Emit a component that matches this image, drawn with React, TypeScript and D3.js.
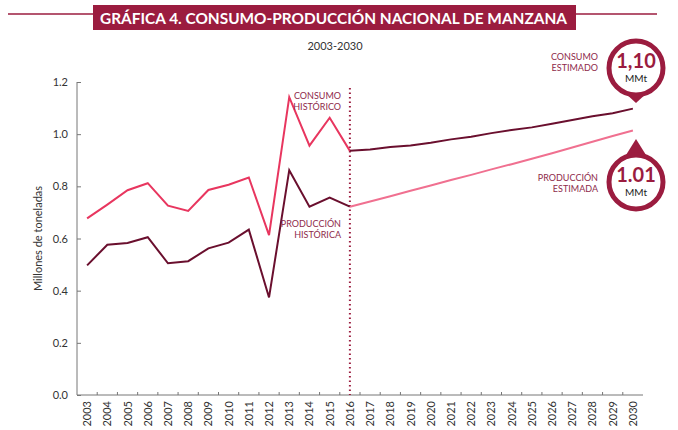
import * as d3 from 'd3';
import { useEffect, useRef } from 'react';

const years = d3.range(2003, 2031).map(String);

const consumoHistYears = ['2003', '2004', '2005', '2006', '2007', '2008', '2009', '2010', '2011', '2012', '2013', '2014', '2015', '2016'];
const consumoHist = [0.677, 0.73, 0.785, 0.812, 0.726, 0.706, 0.786, 0.806, 0.834, 0.613, 1.142, 0.956, 1.063, 0.936];
const produccionHist = [0.497, 0.576, 0.583, 0.605, 0.505, 0.513, 0.562, 0.584, 0.634, 0.374, 0.862, 0.722, 0.757, 0.722];

const estYears = ['2016', '2017', '2018', '2019', '2020', '2021', '2022', '2023', '2024', '2025', '2026', '2027', '2028', '2029', '2030'];
const consumoEst = [0.936, 0.941, 0.951, 0.957, 0.967, 0.98, 0.99, 1.004, 1.016, 1.026, 1.04, 1.054, 1.069, 1.08, 1.098];
const produccionEst = [0.722, 0.742, 0.762, 0.783, 0.803, 0.824, 0.844, 0.865, 0.885, 0.906, 0.927, 0.949, 0.971, 0.993, 1.014];

const yTicks = [0, 0.2, 0.4, 0.6, 0.8, 1.0, 1.2];

const MAROON = '#9b1c3f';
const DARK = '#6a0f2e';
const PINK = '#e8365f';
const LIGHT = '#f07090';
const FONT = 'Lato, "Open Sans", sans-serif';

export default function App() {
  const ref = useRef<SVGSVGElement>(null);
  const width = 678;
  const height = 430;
  const margin = { top: 82, right: 35, bottom: 35, left: 77 };

  useEffect(() => {
    const svg = d3.select(ref.current);
    svg.selectAll('*').remove();

    const x = d3.scaleBand(years, [margin.left, width - margin.right]);
    const cx = (yr: string) => (x(yr) ?? 0) + x.bandwidth() / 2;
    const y = d3.scaleLinear([0, 1.2], [height - margin.bottom, margin.top]);

    // title
    svg.append('line').attr('x1', 8).attr('x2', 657).attr('y1', 14).attr('y2', 14)
      .attr('stroke', MAROON).attr('stroke-width', 1.5);
    svg.append('rect').attr('x', 93).attr('y', 5).attr('width', 483).attr('height', 25).attr('fill', MAROON);
    svg.append('text').attr('x', 100).attr('y', 24)
      .attr('fill', '#fff').attr('font-family', FONT).attr('font-weight', 700).attr('font-size', 16)
      .attr('textLength', 467).attr('lengthAdjust', 'spacingAndGlyphs')
      .text('GRÁFICA 4. CONSUMO-PRODUCCIÓN NACIONAL DE MANZANA');
    svg.append('text').attr('x', 335).attr('y', 50).attr('text-anchor', 'middle')
      .attr('fill', '#333').attr('font-family', FONT).attr('font-size', 11).text('2003-2030');

    // y axis
    const yAxis = svg.append('g').attr('transform', `translate(${margin.left},0)`)
      .call(d3.axisRight(y).tickValues(yTicks).tickSize(4).tickFormat(d3.format('.1f')));
    yAxis.select('.domain').attr('stroke', '#777').attr('d', `M0,${y(1.2)}V${y(0)}`);
    yAxis.selectAll('.tick line').attr('stroke', '#777');
    yAxis.selectAll('.tick text').attr('x', -9).attr('text-anchor', 'end')
      .attr('font-family', FONT).attr('font-size', 11).attr('fill', '#333');

    svg.append('text')
      .attr('transform', `translate(42,${(y(0) + y(1.2)) / 2}) rotate(-90)`)
      .attr('text-anchor', 'middle').attr('font-family', FONT).attr('font-size', 11).attr('fill', '#333')
      .text('Millones de toneladas');

    // x axis
    const xAxis = svg.append('g').attr('transform', `translate(0,${y(0)})`);
    xAxis.append('path').attr('d', `M${margin.left},0H${width - margin.right}`).attr('stroke', '#777');
    xAxis.selectAll('line.tk').data(years.slice(1)).join('line').attr('class', 'tk')
      .attr('x1', (d) => x(d) ?? 0).attr('x2', (d) => x(d) ?? 0).attr('y1', 0).attr('y2', -3)
      .attr('stroke', '#777');
    xAxis.selectAll('text').data(years).join('text')
      .attr('transform', (d) => `translate(${cx(d) + 4},6) rotate(-90)`)
      .attr('text-anchor', 'end').attr('font-family', FONT).attr('font-size', 11).attr('fill', '#333')
      .text((d) => d);

    // divider
    svg.append('line').attr('x1', cx('2016')).attr('x2', cx('2016')).attr('y1', 88).attr('y2', y(0))
      .attr('stroke', MAROON).attr('stroke-width', 2).attr('stroke-dasharray', '1.5 3');

    const line = (ys: string[], vals: number[]) =>
      d3.line<number>().x((_, i) => cx(ys[i])).y((v) => y(v))(vals);

    const series: [string[], number[], string][] = [
      [consumoHistYears, consumoHist, PINK],
      [consumoHistYears, produccionHist, DARK],
      [estYears, consumoEst, DARK],
      [estYears, produccionEst, LIGHT],
    ];
    series.forEach(([ys, vals, c]) => {
      svg.append('path').attr('d', line(ys, vals)).attr('fill', 'none').attr('stroke', c)
        .attr('stroke-width', 2).attr('stroke-linejoin', 'miter');
    });

    const label = (lines: string[], xr: number, y0: number) => {
      const t = svg.append('text').attr('text-anchor', 'end').attr('font-family', FONT)
        .attr('font-size', 9).attr('fill', '#8e2a4a');
      lines.forEach((l, i) => t.append('tspan').attr('x', xr).attr('y', y0 + i * 11).text(l));
    };
    label(['CONSUMO', 'HISTÓRICO'], 341, 99);
    label(['PRODUCCIÓN', 'HISTÓRICA'], 341, 227);
    label(['CONSUMO', 'ESTIMADO'], 598, 60);
    label(['PRODUCCIÓN', 'ESTIMADA'], 598, 181);

    // balloons
    const balloon = (bx: number, by: number, tipY: number, big: string) => {
      const g = svg.append('g');
      const r = 27;
      const dir = tipY > by ? 1 : -1;
      const a = 0.45;
      g.append('path')
        .attr('d', `M${bx - r * Math.sin(a)},${by + dir * r * Math.cos(a)}L${bx},${tipY}L${bx + r * Math.sin(a)},${by + dir * r * Math.cos(a)}Z`)
        .attr('fill', MAROON);
      g.append('circle').attr('cx', bx).attr('cy', by).attr('r', r).attr('fill', '#fff')
        .attr('stroke', MAROON).attr('stroke-width', 5);
      g.append('text').attr('x', bx).attr('y', by).attr('text-anchor', 'middle')
        .attr('font-family', FONT).attr('font-weight', 700).attr('font-size', 20).attr('fill', MAROON).text(big);
      g.append('text').attr('x', bx).attr('y', by + 14).attr('text-anchor', 'middle')
        .attr('font-family', FONT).attr('font-size', 10).attr('fill', '#222').text('MMt');
    };
    balloon(636, 68, 103, '1,10');
    balloon(636, 182, 139, '1.01');
  }, []);

  return <svg ref={ref} width={width} height={height} style={{ position: 'absolute', left: 0, top: 0 }} />;
}
